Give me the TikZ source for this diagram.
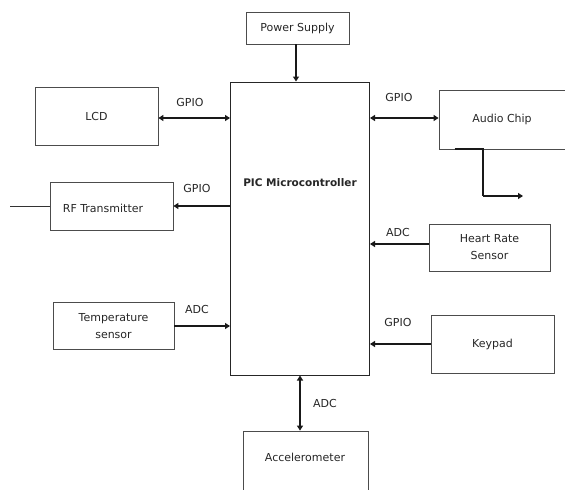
\documentclass[tikz,border=0pt]{standalone}
\usepackage{fontspec}
\setmainfont{DejaVu Sans}
\usetikzlibrary{arrows.meta,calc}
\tikzset{
  blk/.style={draw=black!70, line width=0.8pt, rectangle, inner sep=0pt, align=center,
    font=\fontsize{11}{17}\selectfont, text=black!85},
  txt/.style={inner sep=0pt, font=\fontsize{11}{17}\selectfont, text=black!85, align=center},
  conn/.style={line width=2pt, black!90, -{Triangle[length=5pt,width=6pt]}},
  bconn/.style={line width=2pt, black!90, {Triangle[length=5pt,width=6pt]}-{Triangle[length=5pt,width=6pt]}},
  plain/.style={line width=1pt, black!80}
}
\begin{document}
\begin{tikzpicture}[x=1pt,y=-1pt]
\useasboundingbox (0,0) rectangle (565,490);
% blocks
\node[blk, minimum width=103pt, minimum height=32pt] (power) at (297.5,28) {Power Supply};
\node[blk, draw=black!85, line width=1pt, minimum width=139pt, minimum height=293pt] (pic) at (300,228.5) {};
\node[txt, font=\fontsize{10.5}{12}\selectfont\bfseries] (pictext) at (300,183) {PIC Microcontroller};
\node[blk, minimum width=123pt, minimum height=58pt] (lcd) at (96.5,116) {LCD};
\node[blk, minimum width=123pt, minimum height=48pt] (rf) at (111.5,206) {};
\node[txt] (rftext) at (103,208) {RF Transmitter};
\node[blk, minimum width=121pt, minimum height=47pt] (temp) at (113.5,326) {Temperature\\sensor};
\node[blk, minimum width=140pt, minimum height=59pt] (audio) at (509,119.5) {};
\node[txt] (audiotext) at (502,119) {Audio Chip};
\node[blk, minimum width=121pt, minimum height=47pt] (heart) at (489.5,247.5) {Heart Rate\\Sensor};
\node[blk, minimum width=123pt, minimum height=58pt] (keypad) at (492.5,344) {Keypad};
\node[blk, minimum width=125pt, minimum height=70pt] (accel) at (305.5,466) {};
\node[txt] (acceltext) at (305,457) {Accelerometer};
% coordinates
\coordinate (ant) at (10,206);
\coordinate (ao1) at (483,196);
\coordinate (ao2) at (523,196);
% connectors
\draw[conn] (power.south -| 296,0) -- (pic.north -| 296,0);
\draw[bconn] ([yshift=-2pt]lcd.east) -- ([yshift=-2pt]lcd.east -| pic.west);
\draw[conn] (rf.east -| pic.west) -- (rf.east);
\draw[plain] (rf.west) -- (ant);
\draw[conn] (temp.east) -- (temp.east -| pic.west);
\draw[bconn] ([yshift=1.5pt]audio.west -| pic.east) -- ([yshift=1.5pt]audio.west);
\draw[line width=2pt, black!90] ([xshift=16pt]audio.south west) -- (audio.south west -| ao1) -- (ao1);
\draw[conn] (ao1) -- (ao2);
\draw[conn] ([yshift=3.5pt]heart.west) -- ([yshift=3.5pt]heart.west -| pic.east);
\draw[conn] (keypad.west) -- (keypad.west -| pic.east);
\draw[bconn] (pic.south) -- (pic.south |- accel.north);
% labels
\node[txt] (l1) at (190,102) {GPIO};
\node[txt] (l2) at (197,188) {GPIO};
\node[txt] (l3) at (197,309) {ADC};
\node[txt] (l4) at (399,97) {GPIO};
\node[txt] (l5) at (398,232) {ADC};
\node[txt] (l6) at (398,322) {GPIO};
\node[txt] (l7) at (325,403) {ADC};
\end{tikzpicture}
\end{document}
